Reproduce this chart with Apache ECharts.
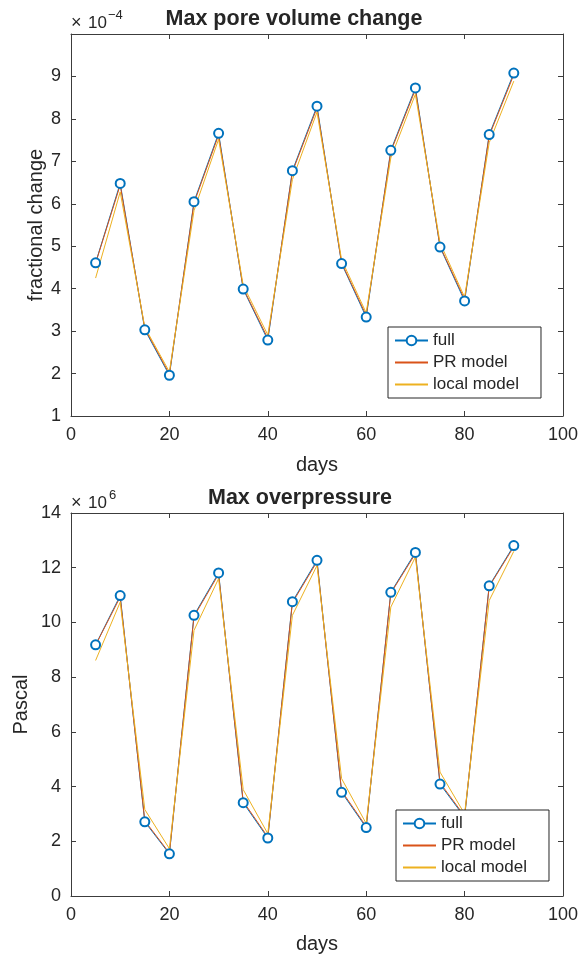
<!DOCTYPE html>
<html>
<head>
<meta charset="utf-8">
<script src="https://cdn.jsdelivr.net/npm/echarts@6/dist/echarts.min.js"></script>
<style>
  html, body { margin: 0; padding: 0; background: #ffffff; }
  #chart { width: 584px; height: 958px; }
</style>
</head>
<body>
<div id="chart"></div>
<script>
// Simulation output days
const days = [5, 10, 15, 20, 25, 30, 35, 40, 45, 50, 55, 60, 65, 70, 75, 80, 85, 90];

// Max pore volume change, fractional (values in units of 1e-4)
const poreFull  = [4.61, 6.48, 3.03, 1.96, 6.05, 7.66, 3.99, 2.79, 6.78, 8.30, 4.59, 3.33, 7.26, 8.73, 4.98, 3.71, 7.63, 9.08];
const porePR    = [4.60, 6.44, 3.06, 1.99, 6.02, 7.62, 4.01, 2.83, 6.75, 8.26, 4.61, 3.37, 7.23, 8.69, 5.00, 3.75, 7.60, 9.04];
const poreLocal = [4.25, 6.28, 3.09, 2.04, 5.84, 7.52, 4.08, 2.91, 6.57, 8.16, 4.68, 3.43, 7.08, 8.58, 5.08, 3.80, 7.44, 8.89];

// Max overpressure, Pa (values in units of 1e6)
const pressFull  = [9.18, 10.98, 2.71, 1.54, 10.26, 11.81, 3.41, 2.12, 10.76, 12.27, 3.79, 2.50, 11.10, 12.56, 4.09, 2.88, 11.34, 12.81];
const pressPR    = [9.17, 10.93, 2.75, 1.57, 10.22, 11.76, 3.46, 2.16, 10.72, 12.22, 3.84, 2.54, 11.07, 12.51, 4.14, 2.92, 11.31, 12.77];
const pressLocal = [8.61, 10.74, 3.16, 1.73,  9.71, 11.60, 3.89, 2.28, 10.26, 12.08, 4.29, 2.65, 10.56, 12.39, 4.53, 3.00, 10.80, 12.60];

// Axis ticks
const xTicks = { min: 0, max: 100, interval: 20 };
const poreTicks = { min: 1, max: 10, interval: 1 };
const pressTicks = { min: 0, max: 14, interval: 2 };

const seriesNames = ['full', 'PR model', 'local model'];
const titles = ['Max pore volume change', 'Max overpressure'];

const FONT = '"Liberation Sans", Arial, Helvetica, sans-serif';
const INK = '#262626';
const AXIS = '#3c3c3c';
const BLUE = '#0072BD';
const ORANGE = '#D95319';
const YELLOW = '#EDB120';

const pairs = ys => days.map((d, i) => [d, ys[i]]);

function axis(extra, labels) {
  return Object.assign({
    type: 'value',
    nameMoveOverlap: false,
    axisLine: { show: true, onZero: false, lineStyle: { color: AXIS, width: 1 } },
    axisTick: { show: true, inside: true, length: 5, lineStyle: { color: AXIS, width: 1 } },
    splitLine: { show: false },
    axisLabel: { show: labels, color: INK, fontSize: 18, fontFamily: FONT, margin: 10 }
  }, extra);
}

const nameStyle = { color: INK, fontSize: 20, fontFamily: FONT };

const xAxis = [];
const yAxis = [];
[0, 1].forEach(g => {
  xAxis.push(axis(Object.assign({ gridIndex: g, position: 'bottom', name: 'days', nameLocation: 'middle',
    nameGap: g === 0 ? 39 : 38, nameTextStyle: nameStyle }, xTicks), true));
  xAxis.push(axis(Object.assign({ gridIndex: g, position: 'top' }, xTicks), false));
});
yAxis.push(axis(Object.assign({ gridIndex: 0, position: 'left', name: 'fractional change', nameLocation: 'middle',
  nameGap: 25, nameTextStyle: nameStyle }, poreTicks), true));
yAxis[0].axisLabel.formatter = v => (v === poreTicks.max ? '' : String(v));
yAxis.push(axis(Object.assign({ gridIndex: 0, position: 'right' }, poreTicks), false));
yAxis.push(axis(Object.assign({ gridIndex: 1, position: 'left', name: 'Pascal', nameLocation: 'middle',
  nameGap: 40, nameTextStyle: nameStyle }, pressTicks), true));
yAxis.push(axis(Object.assign({ gridIndex: 1, position: 'right' }, pressTicks), false));

function lineSeries(name, ys, g, color, marker) {
  const s = {
    name: name, type: 'line', xAxisIndex: g * 2, yAxisIndex: g * 2,
    data: pairs(ys),
    lineStyle: { color: color, width: 1 },
    itemStyle: { color: color, borderColor: color, borderWidth: 1 },
    emphasis: { disabled: true },
    silent: true
  };
  if (marker) {
    s.symbol = 'emptyCircle';
    s.symbolSize = 9;
    s.showAllSymbol = true;
  } else {
    s.symbol = 'none';
  }
  return s;
}

const series = [
  lineSeries(seriesNames[0], poreFull, 0, BLUE, true),
  lineSeries(seriesNames[1], porePR, 0, ORANGE, false),
  lineSeries(seriesNames[2], poreLocal, 0, YELLOW, false),
  lineSeries(seriesNames[0], pressFull, 1, BLUE, true),
  lineSeries(seriesNames[1], pressPR, 1, ORANGE, false),
  lineSeries(seriesNames[2], pressLocal, 1, YELLOW, false)
];

// Legend entries: the model curves have no markers, so only their line is shown
const legendData = [
  { name: seriesNames[0] },
  { name: seriesNames[1], itemStyle: { opacity: 0 } },
  { name: seriesNames[2], itemStyle: { opacity: 0 } }
];

function legendAt(left, top) {
  return {
    data: legendData, orient: 'vertical', left: left, top: top,
    padding: [5, 22, 5, 6], itemGap: 5, itemWidth: 33, itemHeight: 12,
    borderColor: INK, borderWidth: 1, backgroundColor: '#ffffff',
    textStyle: { fontSize: 17, color: INK, fontFamily: FONT },
    selectedMode: false
  };
}

function text(str, x, y, size, weight, align) {
  return {
    type: 'text', x: x, y: y, silent: true,
    style: { text: str, fill: INK, fontSize: size, fontWeight: weight || 'normal', fontFamily: FONT,
      align: align || 'left', textAlign: align || 'left', verticalAlign: 'middle', textVerticalAlign: 'middle' }
  };
}

const chart = echarts.init(document.getElementById('chart'), null, { renderer: 'canvas' });
chart.setOption({
  animation: false,
  backgroundColor: '#ffffff',
  grid: [
    { left: 71, top: 34, width: 492, height: 382 },
    { left: 71, top: 513, width: 492, height: 383 }
  ],
  xAxis: xAxis,
  yAxis: yAxis,
  legend: [legendAt(388, 327), legendAt(396, 810)],
  series: series,
  graphic: [
    text(titles[0], 294, 19, 21.5, 'bold', 'center'),
    text(titles[1], 300, 498, 21.5, 'bold', 'center'),
    text('\u00d7', 71, 23, 18),
    text('10', 88, 23.5, 17),
    text('\u22124', 108, 15, 13),
    text('\u00d7', 71, 503, 18),
    text('10', 88, 503.5, 17),
    text('6', 109, 495.5, 13)
  ]
});
</script>
</body>
</html>
